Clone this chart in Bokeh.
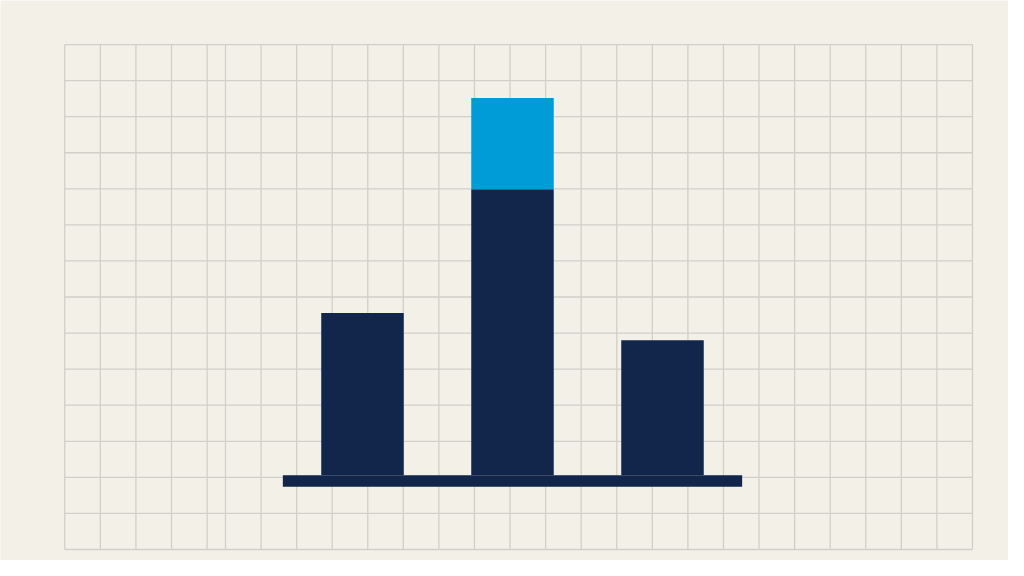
from bokeh.plotting import figure
from bokeh.models import Range1d, ColumnDataSource
from bokeh.embed import file_html
from bokeh.resources import INLINE

# ---- data (values in grid-cell units) ----
categories = ["A", "B", "C"]
base_values = [4.50, 7.93, 3.74]
highlight_values = [0.0, 2.53, 0.0]

# ---- style ----
BG = "#f3f0e8"
GRID = "#d2cfc9"
NAVY = "#12254a"
BLUE = "#009cd8"

x_pos = list(range(len(categories)))
bar_width = 0.55

p = figure(width=1008, height=560,
           x_range=Range1d(-2.4133, 4.3067), y_range=Range1d(-2.365, 13.161),
           x_axis_type=None, y_axis_type=None,
           toolbar_location=None, output_backend="svg", min_border=0,
           background_fill_color=BG, border_fill_color=BG, outline_line_color=None)
p.grid.visible = False

# graph-paper grid (decoration)
gx = [-1.985 + k * 0.2373 for k in range(5)] + [-0.9133 + k * 0.23713 for k in range(22)]
gy = [11.94 - k for k in range(15)]
x0, x1 = gx[0], gx[-1]
y0, y1 = gy[-1], gy[0]
p.segment(x0=gx, x1=gx, y0=[y0] * len(gx), y1=[y1] * len(gx), line_color=GRID, line_width=1.3)
p.segment(x0=[x0] * len(gy), x1=[x1] * len(gy), y0=gy, y1=gy, line_color=GRID, line_width=1.3)

# stacked bars
src = ColumnDataSource(dict(x=x_pos, base=base_values, highlight=highlight_values))
p.vbar_stack(["base", "highlight"], x="x", width=bar_width, color=[NAVY, BLUE],
             line_color=None, source=src)

# baseline
overhang = 0.256
thick = 0.322
p.quad(left=[x_pos[0] - bar_width / 2 - overhang], right=[x_pos[-1] + bar_width / 2 + overhang],
       bottom=[-thick], top=[0], fill_color=NAVY, line_color=None)

html = file_html(p, INLINE)
html = html.replace("<body>", '<body style="background-color:%s;">' % BG, 1)
open("out.html", "w").write(html)
